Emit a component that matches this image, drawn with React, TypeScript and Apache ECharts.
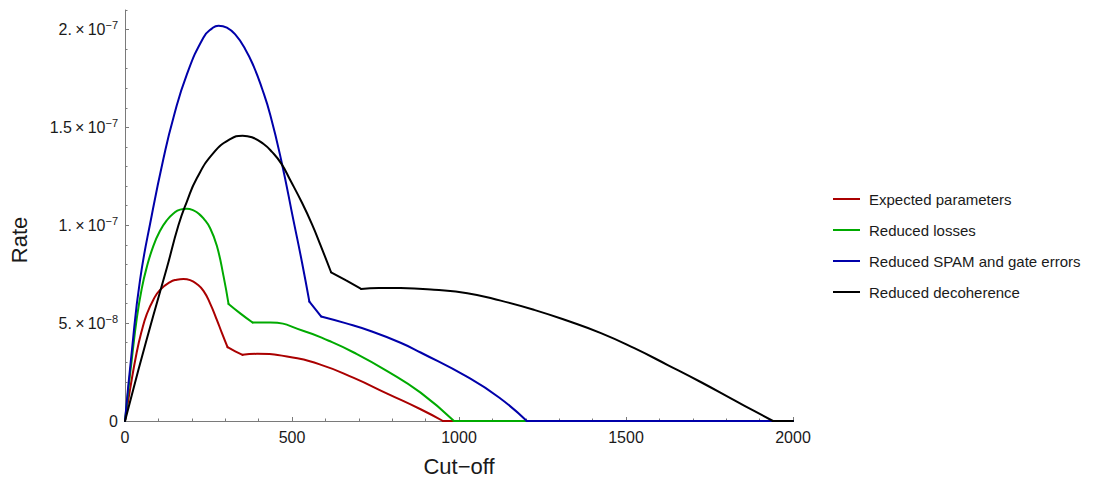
import React, { useEffect, useRef } from "react";
import * as echarts from "echarts";

const seriesNames = [
  "Expected parameters",
  "Reduced losses",
  "Reduced SPAM and gate errors",
  "Reduced decoherence",
];
const seriesColors = ["#aa0000", "#00aa00", "#0000aa", "#000000"];

const expectedX = [0, 15, 35, 50, 65, 85, 105, 135, 155, 175, 195, 215, 235, 255, 275, 290, 307, 330, 352, 395, 485, 585, 685, 785, 885, 952, 2000];
const expectedY = [0, 1.6e-8, 3.5e-8, 4.6e-8, 5.45e-8, 6.2e-8, 6.7e-8, 7.1e-8, 7.22e-8, 7.26e-8, 7.2e-8, 7.0e-8, 6.65e-8, 6.0e-8, 5.17e-8, 4.5e-8, 3.77e-8, 3.56e-8, 3.38e-8, 3.43e-8, 3.3e-8, 2.88e-8, 2.2e-8, 1.4e-8, 0.6e-8, 0, 0];
const expectedKinks = [307, 352, 952];

const lossesX = [0, 10, 20, 35, 50, 65, 85, 105, 125, 145, 165, 185, 205, 220, 235, 255, 275, 295, 310, 345, 382, 435, 535, 610, 685, 785, 885, 985, 2000];
const lossesY = [0, 1.6e-8, 3.1e-8, 5.2e-8, 6.75e-8, 7.85e-8, 8.95e-8, 9.72e-8, 10.25e-8, 10.6e-8, 10.8e-8, 10.84e-8, 10.76e-8, 10.6e-8, 10.35e-8, 9.85e-8, 8.95e-8, 7.4e-8, 5.98e-8, 5.5e-8, 5.03e-8, 5.03e-8, 4.6e-8, 4.1e-8, 3.5e-8, 2.55e-8, 1.45e-8, 0, 0];
const lossesKinks = [310, 382, 985];

const spamX = [0, 20, 45, 80, 115, 145, 185, 235, 260, 280, 305, 330, 360, 385, 410, 435, 468, 505, 530, 552, 587, 660, 735, 825, 885, 1025, 1120, 1203, 2000];
const spamY = [0, 3.5e-8, 7.2e-8, 10.5e-8, 13.4e-8, 15.5e-8, 17.7e-8, 19.6e-8, 20.05e-8, 20.2e-8, 20.1e-8, 19.75e-8, 19.0e-8, 18.13e-8, 17.0e-8, 15.64e-8, 13.3e-8, 10.2e-8, 8.1e-8, 6.1e-8, 5.34e-8, 5.0e-8, 4.6e-8, 4.0e-8, 3.5e-8, 2.25e-8, 1.2e-8, 0, 0];
const spamKinks = [552, 587, 1203];

const decoX = [0, 40, 85, 125, 160, 185, 215, 265, 315, 352, 380, 415, 440, 468, 495, 530, 560, 585, 617, 662, 707, 760, 825, 925, 1025, 1125, 1225, 1325, 1425, 1525, 1625, 1725, 1825, 1885, 1940, 2000];
const decoY = [0, 2.6e-8, 5.4e-8, 7.8e-8, 10.0e-8, 11.2e-8, 12.4e-8, 13.7e-8, 14.4e-8, 14.58e-8, 14.5e-8, 14.15e-8, 13.75e-8, 13.15e-8, 12.3e-8, 11.15e-8, 10.05e-8, 9.0e-8, 7.6e-8, 7.18e-8, 6.75e-8, 6.8e-8, 6.79e-8, 6.7e-8, 6.53e-8, 6.15e-8, 5.68e-8, 5.12e-8, 4.49e-8, 3.72e-8, 2.86e-8, 1.98e-8, 1.05e-8, 0.5e-8, 0, 0];
const decoKinks = [617, 707, 1940];

const xTickValues = [0, 500, 1000, 1500, 2000];
const yTickValues = [0, 5e-8, 1e-7, 1.5e-7, 2e-7];
const yTickMantissas = ["0", "5.", "1.", "1.5", "2."];
const yTickExponents = ["", "\u22128", "\u22127", "\u22127", "\u22127"];

const xTitle = "Cut\u2212off";
const yTitle = "Rate";

const FONT = "'Liberation Sans', Arial, sans-serif";
const AXIS_GRAY = "#7a7a7a";
const TEXT = "#1a1a1a";

function splitSegments(xs: number[], ys: number[], kinks: number[]) {
  const segs: number[][][] = [];
  let cur: number[][] = [];
  xs.forEach((x, j) => {
    cur.push([x, ys[j]]);
    if (kinks.includes(x)) {
      segs.push(cur);
      cur = [[x, ys[j]]];
    }
  });
  if (cur.length > 1) segs.push(cur);
  return segs;
}

export default function App() {
  const ref = useRef<HTMLDivElement>(null);

  useEffect(() => {
    if (!ref.current) return;
    const chart = echarts.init(ref.current, null, { renderer: "svg" });
    const xs = [expectedX, lossesX, spamX, decoX];
    const ys = [expectedY, lossesY, spamY, decoY];
    const ks = [expectedKinks, lossesKinks, spamKinks, decoKinks];

    const series: any[] = [];
    seriesNames.forEach((name, i) => {
      splitSegments(xs[i], ys[i], ks[i]).forEach((seg) => {
        series.push({
          name,
          type: "line",
          xAxisIndex: 0,
          yAxisIndex: 0,
          data: seg,
          showSymbol: false,
          symbol: "none",
          clip: false,
          smooth: seg.length > 2 ? 0.5 : false,
          lineStyle: { color: seriesColors[i], width: 2, cap: "round", join: "round" },
          itemStyle: { color: seriesColors[i] },
          z: 3 + i,
        });
      });
    });

    chart.setOption({
      animation: false,
      backgroundColor: "#ffffff",
      grid: { left: 125, right: 327, top: 10, bottom: 59, containLabel: false },
      xAxis: {
        type: "value",
        min: 0,
        max: 2000,
        interval: 500,
        axisLine: { show: true, lineStyle: { color: AXIS_GRAY, width: 1 } },
        axisTick: { show: true, inside: true, length: 4, lineStyle: { color: AXIS_GRAY } },
        minorTick: { show: true, splitNumber: 5, length: 2.5, lineStyle: { color: AXIS_GRAY } },
        axisLabel: {
          show: true,
          customValues: xTickValues,
          formatter: (v: number) => String(v),
          color: TEXT,
          fontSize: 16,
          fontFamily: FONT,
          margin: 8,
        },
        splitLine: { show: false },
        minorSplitLine: { show: false },
      },
      yAxis: [
        {
          type: "value",
          min: 0,
          max: 2.1e-7,
          interval: 1e-8,
          position: "left",
          offset: 0,
          axisLine: { show: true, onZero: false, lineStyle: { color: AXIS_GRAY, width: 1 } },
          axisTick: { show: true, inside: true, length: 2.5, lineStyle: { color: AXIS_GRAY } },
          axisLabel: { show: false },
          splitLine: { show: false },
        },
        {
          type: "value",
          min: 0,
          max: 2.1e-7,
          position: "left",
          offset: 0,
          axisLine: { show: false },
          axisTick: {
            show: true,
            inside: true,
            length: 4,
            customValues: yTickValues,
            lineStyle: { color: AXIS_GRAY },
          },
          axisLabel: {
            show: true,
            customValues: yTickValues,
            margin: 7,
            formatter: (v: number) => {
              const idx = yTickValues.findIndex((t) => Math.abs(t - v) < 1e-12);
              if (idx < 0) return "";
              if (yTickExponents[idx] === "") return "{m|" + yTickMantissas[idx] + "}";
              return "{m|" + yTickMantissas[idx] + "\u2009\u00d7\u200910}{s|" + yTickExponents[idx] + "}";
            },
            rich: {
              m: { fontSize: 16, color: TEXT, fontFamily: FONT },
              s: { fontSize: 11, color: TEXT, fontFamily: FONT, padding: [0, 0, 9, 0] },
            },
          },
          splitLine: { show: false },
        },
      ],
      legend: {
        show: true,
        orient: "vertical",
        left: 833,
        top: 190,
        padding: 0,
        itemWidth: 27,
        itemHeight: 2,
        itemGap: 13,
        icon: "rect",
        data: seriesNames.map((n, i) => ({ name: n, itemStyle: { color: seriesColors[i] } })),
        textStyle: {
          color: TEXT,
          fontSize: 15,
          fontFamily: FONT,
          lineHeight: 18,
          padding: [0, 0, 0, 4],
        },
      },
      graphic: [
        {
          type: "text",
          x: 19,
          y: 240,
          rotation: Math.PI / 2,
          style: {
            text: yTitle,
            fontSize: 22,
            fontFamily: FONT,
            fill: TEXT,
            align: "center",
            verticalAlign: "middle",
          },
        },
        {
          type: "text",
          x: 459,
          y: 466,
          style: {
            text: xTitle,
            fontSize: 22,
            fontFamily: FONT,
            fill: TEXT,
            align: "center",
            verticalAlign: "middle",
          },
        },
      ],
      series,
    });

    return () => {
      chart.dispose();
    };
  }, []);

  return (
    <div
      ref={ref}
      style={{ position: "fixed", left: 0, top: 0, width: 1120, height: 480, background: "#fff" }}
    />
  );
}
